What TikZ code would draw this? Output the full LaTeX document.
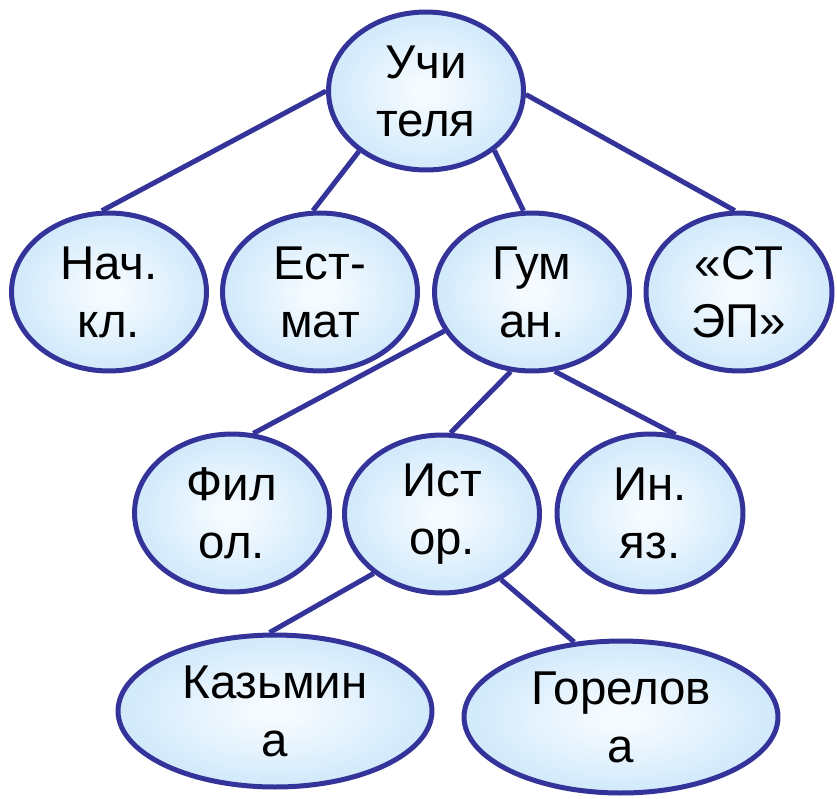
\documentclass[tikz,border=0pt]{standalone}
\usepackage{fontspec}
\setmainfont{Liberation Sans}
\usetikzlibrary{shapes.geometric}

\definecolor{ovalline}{RGB}{51,51,153}
\definecolor{ovaledge}{RGB}{208,233,251}
\definecolor{ovalcenter}{RGB}{246,251,255}
\pgfdeclareradialshading{ovalshade}{\pgfpoint{0bp}{0bp}}{color(0bp)=(ovalcenter); color(3bp)=(ovalcenter); color(25bp)=(ovaledge); color(50bp)=(ovaledge)}

\tikzset{
  oval/.style={ellipse, draw=ovalline, line width=0.1cm, shading=ovalshade,
    minimum width=3.9cm, minimum height=3.16cm, inner sep=0pt, align=center,
    font=\fontsize{27}{33}\selectfont},
  wideoval/.style={oval, minimum width=6.28cm, minimum height=3.04cm},
  link/.style={draw=ovalline, line width=0.1cm}
}

\begin{document}
\begin{tikzpicture}[x=0.02cm, y=-0.02cm]
      \useasboundingbox (0,0) rectangle (837,798);

      \node[oval] (uchit) at (426,91) {Учи\\теля};

      \node[oval] (nach) at (109,292) {Нач.\\кл.};
      \node[oval] (estmat) at (320,292) {Ест-\\мат};
      \node[oval] (guman) at (532,292) {Гум\\ан.};
      \node[oval, minimum width=3.72cm] (stp) at (739,292) {«СТ\\ЭП»};

      \node[oval] (filol) at (232,513) {Фил\\ол.};
      \node[oval] (istor) at (442,514) {Ист\\ор.};
      \node[oval, minimum width=3.72cm] (inyaz) at (650,513) {Ин.\\яз.};

      \node[wideoval] (kazm) at (275,711) {Казьмин\\а};
      \node[wideoval] (gorel) at (621,717) {Горелов\\а};

      \draw[link] (uchit.180) -- (nach.95);
      \draw[link] (uchit.222) -- (estmat.95);
      \draw[link] (uchit.319) -- (guman.96);
      \draw[link] (uchit.358) -- (stp.93);

      \draw[link] (guman.204) -- (filol.75);
      \draw[link] (guman.255) -- (istor.84);
      \draw[link] (guman.286) -- (inyaz.72);

      \draw[link] (istor.221) -- (kazm.94);
      \draw[link] (istor.312) -- (gorel.122);
\end{tikzpicture}
\end{document}
